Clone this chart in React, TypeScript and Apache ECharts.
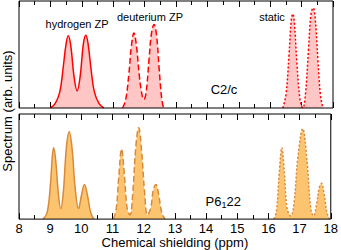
import React, { useEffect, useRef } from "react";
import * as echarts from "echarts";

// C2/c panel (top)
const c2cHydrogen: [number, number][] = [
  [9.0, 0], [9.15, 0.04], [9.3, 0.15], [9.4, 0.36], [9.5, 0.6], [9.57, 0.676], [9.65, 0.58],
  [9.75, 0.3], [9.85, 0.16], [9.95, 0.3], [10.05, 0.6], [10.13, 0.68], [10.2, 0.6],
  [10.3, 0.35], [10.4, 0.15], [10.55, 0.04], [10.7, 0],
];
const c2cDeuterium: [number, number][] = [
  [11.3, 0], [11.4, 0.08], [11.5, 0.32], [11.58, 0.58], [11.66, 0.7], [11.74, 0.58],
  [11.84, 0.28], [11.92, 0.12], [11.98, 0.08], [12.05, 0.15], [12.14, 0.45], [12.22, 0.7],
  [12.3, 0.78], [12.38, 0.68], [12.46, 0.38], [12.54, 0.1], [12.6, 0],
];
const c2cStatic: [number, number][] = [
  [16.4, 0], [16.5, 0.12], [16.6, 0.5], [16.67, 0.82], [16.72, 0.88], [16.77, 0.8],
  [16.85, 0.42], [16.95, 0.08], [17.04, 0], [17.12, 0.12], [17.22, 0.55], [17.3, 0.88],
  [17.37, 0.935], [17.43, 0.85], [17.52, 0.45], [17.6, 0.12], [17.68, 0],
];

// P6122 panel (bottom)
const p6Hydrogen: [number, number][] = [
  [8.77, 0], [8.9, 0.06], [9.0, 0.3], [9.07, 0.6], [9.11, 0.68], [9.17, 0.58], [9.27, 0.22],
  [9.34, 0.1], [9.42, 0.25], [9.52, 0.68], [9.61, 0.83], [9.7, 0.68], [9.8, 0.3],
  [9.91, 0.1], [10.0, 0.22], [10.1, 0.33], [10.2, 0.22], [10.3, 0.06], [10.4, 0],
];
const p6Deuterium: [number, number][] = [
  [11.03, 0], [11.12, 0.1], [11.2, 0.4], [11.29, 0.667], [11.38, 0.42], [11.47, 0.1],
  [11.56, 0.04], [11.65, 0.25], [11.75, 0.7], [11.84, 0.87], [11.93, 0.66], [12.03, 0.25],
  [12.12, 0.04], [12.22, 0.1], [12.31, 0.28], [12.39, 0.33], [12.47, 0.25], [12.58, 0.06], [12.68, 0],
];
const p6Static: [number, number][] = [
  [16.18, 0], [16.26, 0.08], [16.35, 0.45], [16.43, 0.68], [16.51, 0.45], [16.6, 0.1],
  [16.72, 0.03], [16.82, 0.15], [16.95, 0.6], [17.1, 0.86], [17.24, 0.55], [17.36, 0.1],
  [17.45, 0.03], [17.55, 0.15], [17.63, 0.3], [17.7, 0.34], [17.78, 0.25], [17.88, 0.06], [17.96, 0],
];

const xMin = 8;
const xMax = 18;
const FONT = "Liberation Sans, Arial, sans-serif";

export default function App() {
  const ref = useRef<HTMLDivElement>(null);
  useEffect(() => {
    if (!ref.current) return;
    const chart = echarts.init(ref.current, null, { renderer: "svg" });

    const topColor = "#ff0000";
    const topFill = "#ffc6c6";
    const botColor = "#d9893a";
    const botFill = "#fdc470";

    const mkX = (gridIndex: number, position: "top" | "bottom", labels: boolean, name?: string) => ({
      type: "value",
      gridIndex,
      position,
      min: xMin,
      max: xMax,
      interval: 1,
      name: name || "",
      nameLocation: "middle",
      nameGap: 16,
      nameTextStyle: { fontFamily: FONT, fontSize: 13, color: "#000", verticalAlign: "top" },
      axisLine: { show: false },
      axisTick: { show: true, inside: true, length: 6, lineStyle: { color: "#000", width: 1 } },
      minorTick: { show: true, splitNumber: 2, length: 4, lineStyle: { color: "#000", width: 1 } },
      axisLabel: { show: labels, fontFamily: FONT, fontSize: 13, color: "#000", margin: 3 },
      splitLine: { show: false },
      minorSplitLine: { show: false },
    });
    const mkY = (gridIndex: number) => ({
      type: "value",
      gridIndex,
      min: 0,
      max: 1,
      show: false,
    });
    const mkSeries = (
      data: [number, number][],
      idx: number,
      color: string,
      fill: string,
      type: any
    ) => ({
      type: "line",
      xAxisIndex: idx * 2,
      yAxisIndex: idx,
      data,
      smooth: 0.4,
      symbol: "none",
      lineStyle: { color, width: 1.5, type },
      areaStyle: { color: fill, opacity: 1, origin: "start" },
      z: 2,
    });

    const txt = (text: string, x: number, y: number, size: number, align = "center") => ({
      type: "text",
      x,
      y,
      style: { text, fontFamily: FONT, fontSize: size, fill: "#000", align, verticalAlign: "middle" },
    });

    chart.setOption({
      animation: false,
      grid: [
        { left: 19, right: 8, top: 1, height: 107, show: true, borderColor: "#000", borderWidth: 1, backgroundColor: "transparent", z: 5 },
        { left: 19, right: 8, top: 114, height: 106, show: true, borderColor: "#000", borderWidth: 1, backgroundColor: "transparent", z: 5 },
      ],
      xAxis: [
        mkX(0, "bottom", false),
        mkX(0, "top", false),
        mkX(1, "bottom", true, "Chemical shielding (ppm)"),
        mkX(1, "top", false),
      ],
      yAxis: [mkY(0), mkY(1)],
      series: [
        mkSeries(c2cHydrogen, 0, topColor, topFill, "solid"),
        mkSeries(c2cDeuterium, 0, topColor, topFill, [6, 3]),
        mkSeries(c2cStatic, 0, topColor, topFill, [2, 2]),
        mkSeries(p6Hydrogen, 1, botColor, botFill, "solid"),
        mkSeries(p6Deuterium, 1, botColor, botFill, [6, 3]),
        mkSeries(p6Static, 1, botColor, botFill, [2, 2]),
      ],
      graphic: [
        {
          type: "text", x: 7, y: 111, rotation: Math.PI / 2,
          style: { text: "Spectrum (arb. units)", fontFamily: FONT, fontSize: 13, fill: "#000", align: "center", verticalAlign: "middle" },
        },
        txt("hydrogen ZP", 77, 24, 11),
        txt("deuterium ZP", 150, 17, 11),
        txt("static", 272, 17, 11),
        txt("C2/c", 224, 89, 13),
        txt("P6", 205.5, 201, 13, "left"),
        txt("1", 221.4, 205, 9, "left"),
        txt("22", 226.4, 201, 13, "left"),
      ],
    });
    return () => chart.dispose();
  }, []);
  return <div ref={ref} style={{ width: 341, height: 250, position: "absolute", left: 0, top: 0 }} />;
}
